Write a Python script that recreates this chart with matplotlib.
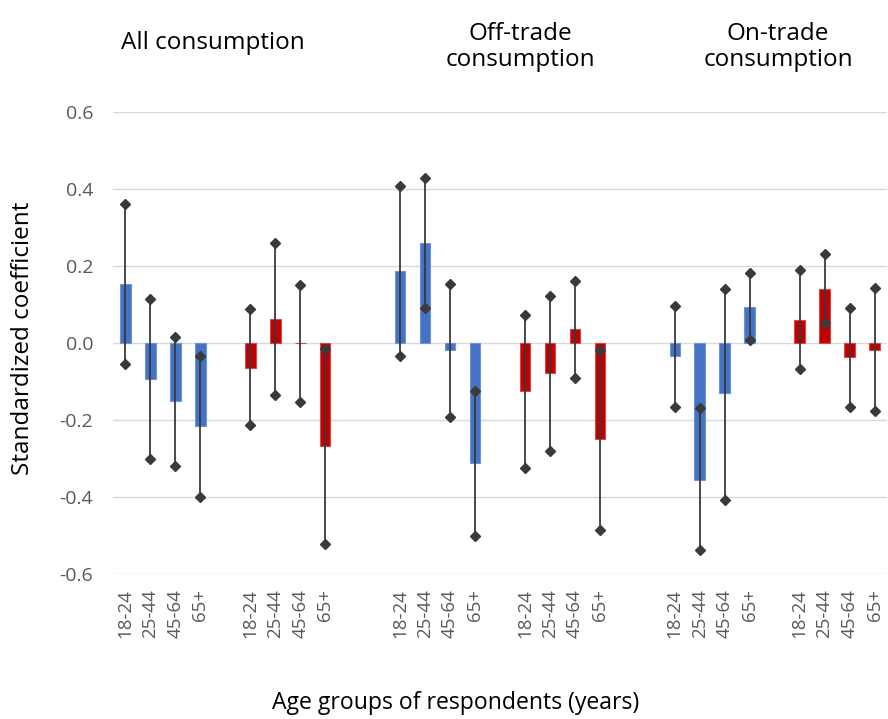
import numpy as np
import matplotlib.pyplot as plt

plt.rcParams['font.family'] = ['Open Sans', 'DejaVu Sans']

# Data: standardized coefficients with lower / upper interval ends
ages = ["18-24", "25-44", "45-64", "65+"]
panels = ["All consumption", "Off-trade\nconsumption", "On-trade\nconsumption"]

# blue series (one row per panel)
blue_coef = [[0.152, -0.094, -0.151, -0.216],
             [0.186, 0.260, -0.017, -0.312],
             [-0.033, -0.355, -0.131, 0.094]]
blue_lo = [[-0.055, -0.300, -0.319, -0.400],
           [-0.034, 0.092, -0.192, -0.500],
           [-0.165, -0.538, -0.407, 0.007]]
blue_hi = [[0.360, 0.113, 0.015, -0.033],
           [0.407, 0.429, 0.152, -0.125],
           [0.097, -0.170, 0.140, 0.183]]

# red series
red_coef = [[-0.064, 0.063, 0.000, -0.268],
            [-0.125, -0.078, 0.036, -0.250],
            [0.061, 0.140, -0.036, -0.019]]
red_lo = [[-0.214, -0.134, -0.153, -0.521],
          [-0.324, -0.281, -0.092, -0.486],
          [-0.067, 0.053, -0.165, -0.177]]
red_hi = [[0.088, 0.260, 0.150, -0.016],
          [0.072, 0.121, 0.161, -0.017],
          [0.189, 0.231, 0.091, 0.144]]

BLUE = "#4472C4"
RED = "#C00000"
ERR = "#3A3A3A"

fig = plt.figure(figsize=(8.88, 7.19), dpi=100)
W, H = 888, 719
ax = fig.add_axes([113 / W, 1 - 574 / H, (887 - 113) / W, (574 - 112) / H])

# slot layout: 4 blue bars, 1 gap, 4 red bars, 2 gaps, next panel
xpos, labels = [], []
for p in range(len(panels)):
    base = p * 11
    bx = base + np.arange(4)
    rx = base + 5 + np.arange(4)
    for x, c, lo, hi, col, edge in [
        (bx, blue_coef[p], blue_lo[p], blue_hi[p], BLUE, "#6F95D8"),
        (rx, red_coef[p], red_lo[p], red_hi[p], RED, "#D24A4A"),
    ]:
        ax.bar(x, c, width=0.42, color=col, edgecolor=edge, linewidth=0.8, zorder=2)
        for xi, l, h in zip(x, lo, hi):
            ax.plot([xi, xi], [l, h], color=ERR, lw=1.3, zorder=3,
                    marker="D", markersize=5, markerfacecolor=ERR,
                    markeredgecolor=ERR)
        xpos.extend(x)
        labels.extend(ages)

ax.set_xlim(-0.5, 30.5)
ax.set_ylim(-0.6, 0.6)
ax.set_yticks(np.arange(-0.6, 0.61, 0.2))
ax.set_yticklabels([f"{v:.1f}" for v in np.arange(-0.6, 0.61, 0.2)])
ax.set_xticks(xpos)
ax.set_xticklabels(labels, rotation=90)
ax.tick_params(axis="both", length=0, colors="#595959")
ax.tick_params(axis="y", pad=14.4, labelsize=14)
ax.tick_params(axis="x", pad=11, labelsize=13.5)
ax.grid(axis="y", color="#D9D9D9", lw=1.0, zorder=0)
ax.set_axisbelow(True)
for s in ax.spines.values():
    s.set_visible(False)

fig.text(23 / W, 1 - 338 / H, "Standardized coefficient", fontsize=17.5,
         rotation=90, ha="center", va="center")
fig.text(456 / W, 1 - 703 / H, "Age groups of respondents (years)",
         fontsize=16.6, ha="center", va="center")

fig.text(121 / W, 1 - 43 / H, panels[0], fontsize=17.5, ha="left", va="center")
fig.text(520 / W, 1 - 47 / H, panels[1], fontsize=17.5, ha="center", va="center",
         linespacing=1.15)
fig.text(778 / W, 1 - 47 / H, panels[2], fontsize=17.5, ha="center", va="center",
         linespacing=1.15)

fig.savefig("out.png", dpi=100)
